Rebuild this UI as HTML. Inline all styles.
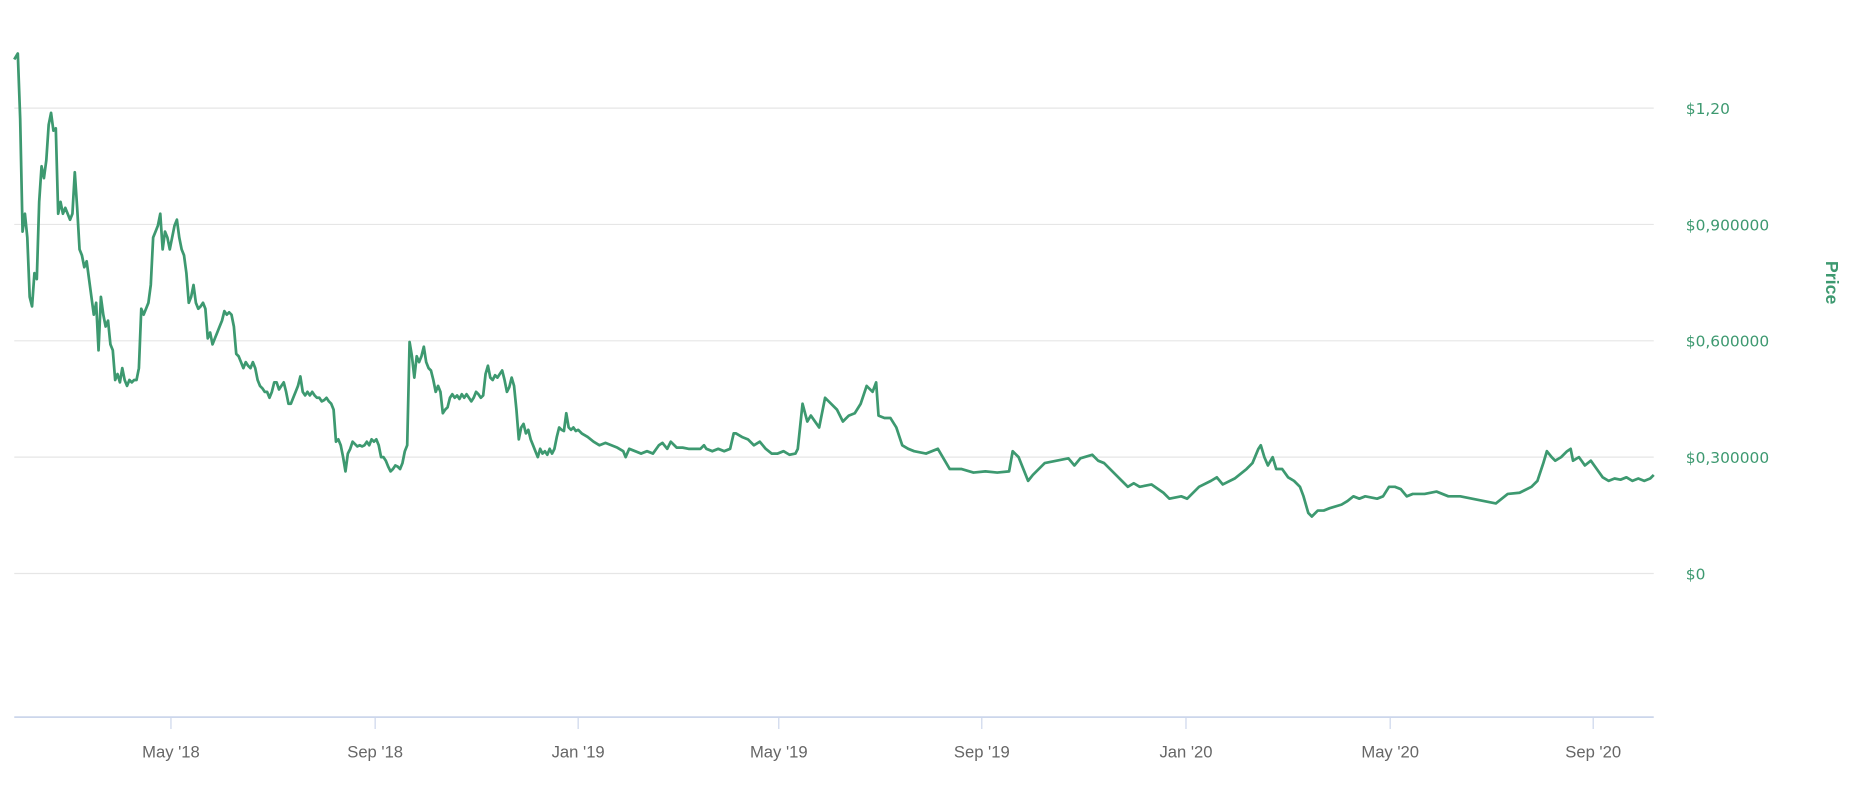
<!DOCTYPE html>
<html><head><meta charset="utf-8"><style>
html,body{margin:0;padding:0;background:#fff;}
svg{display:block;}
</style></head><body>
<svg width="1852" height="792" viewBox="0 0 1560 667" xmlns="http://www.w3.org/2000/svg" font-family="'Liberation Sans', 'DejaVu Sans', sans-serif">
<g stroke="#e6e6e6" stroke-width="1">
<line x1="12" y1="91" x2="1393" y2="91"/>
<line x1="12" y1="189" x2="1393" y2="189"/>
<line x1="12" y1="287" x2="1393" y2="287"/>
<line x1="12" y1="385" x2="1393" y2="385"/>
<line x1="12" y1="483" x2="1393" y2="483"/>
</g>
<line x1="12" y1="604" x2="1393" y2="604" stroke="#ccd6eb" stroke-width="1.5"/>
<g stroke="#ccd6eb" stroke-width="1">
<line x1="144" y1="604" x2="144" y2="614"/>
<line x1="316" y1="604" x2="316" y2="614"/>
<line x1="487" y1="604" x2="487" y2="614"/>
<line x1="656" y1="604" x2="656" y2="614"/>
<line x1="827" y1="604" x2="827" y2="614"/>
<line x1="999" y1="604" x2="999" y2="614"/>
<line x1="1171" y1="604" x2="1171" y2="614"/>
<line x1="1342" y1="604" x2="1342" y2="614"/>
</g>
<g fill="#666" font-size="14" text-anchor="middle">
<text x="144" y="638">May '18</text>
<text x="316" y="638">Sep '18</text>
<text x="487" y="638">Jan '19</text>
<text x="656" y="638">May '19</text>
<text x="827" y="638">Sep '19</text>
<text x="999" y="638">Jan '20</text>
<text x="1171" y="638">May '20</text>
<text x="1342" y="638">Sep '20</text>
</g>
<g fill="#3d9970" font-size="13" font-family="'DejaVu Sans', sans-serif">
<text x="1420" y="96">$1,20</text>
<text x="1420" y="194">$0,900000</text>
<text x="1420" y="292">$0,600000</text>
<text x="1420" y="390">$0,300000</text>
<text x="1420" y="488">$0</text>
</g>
<text x="1538" y="238" fill="#3d9970" font-size="15" font-weight="bold" text-anchor="middle" transform="rotate(90 1538 238)">Price</text>
<polyline fill="none" stroke="#3d9970" stroke-width="2.3" stroke-linejoin="round" points="12,50 15,45 17,100 19,195 21,180 23,200 25,250 27,258 29,230 31,235 33,170 35,140 37,150 39,135 41,105 43,95 45,110 47,108 49,180 51,170 53,180 55,175 57,180 59,185 61,180 63,145 65,175 67,210 69,215 71,225 73,220 75,235 77,250 79,265 81,255 83,295 85,250 87,265 89,275 91,270 93,290 95,295 97,320 99,315 101,322 103,310 105,320 107,325 109,320 111,322 113,320 115,320 117,310 119,260 121,265 123,260 125,255 127,240 129,200 131,195 133,190 135,180 137,210 139,195 141,200 143,210 145,200 147,190 149,185 151,200 153,210 155,215 157,230 159,255 161,250 163,240 165,255 167,260 169,258 171,255 173,260 175,285 177,280 179,290 181,285 183,280 185,275 187,270 189,262 191,265 193,263 195,265 197,275 199,298 201,300 203,305 205,310 207,305 209,308 211,310 213,305 215,310 217,320 219,325 221,327 223,330 225,330 227,335 229,330 231,322 233,322 235,328 237,325 239,322 241,330 243,340 245,340 247,335 249,330 251,325 253,317 255,330 257,333 259,330 261,333 263,330 265,333 267,335 269,335 271,338 273,337 275,335 277,338 279,340 281,345 283,372 285,370 287,375 289,385 291,397 293,382 295,378 297,372 299,374 301,376 303,375 305,376 307,375 309,372 311,375 313,370 315,372 317,370 319,375 321,385 323,385 325,388 327,393 329,397 331,395 333,392 335,393 337,395 339,390 341,380 343,375 345,288 347,300 349,318 351,300 353,305 355,300 357,292 359,305 361,310 363,312 365,320 367,330 369,325 371,330 373,348 375,345 377,343 379,335 381,332 383,335 385,333 387,336 389,332 391,335 393,332 395,335 397,338 399,335 401,330 403,332 405,335 407,333 409,315 411,308 413,318 415,320 417,316 419,318 421,315 423,312 425,320 427,330 429,326 431,318 433,325 435,345 437,370 439,360 441,357 443,365 445,362 447,370 449,375 451,380 453,385 455,378 457,382 459,380 461,383 463,378 465,382 467,378 469,368 471,360 473,362 475,363 477,348 479,360 481,362 483,360 485,363 487,362 490,365 495,368 500,372 505,375 510,373 515,375 520,377 525,380 527,385 530,378 535,380 540,382 545,380 550,382 555,375 558,373 562,378 565,372 570,377 575,377 580,378 585,378 590,378 593,375 595,378 600,380 605,378 610,380 615,378 618,365 620,365 625,368 630,370 635,375 640,372 645,378 650,382 655,382 660,380 665,383 670,382 672,378 676,340 680,355 683,350 690,360 695,335 700,340 705,345 710,355 715,350 720,348 725,340 730,325 735,330 738,322 740,350 745,352 750,352 755,360 760,375 765,378 770,380 780,382 790,378 800,395 810,395 820,398 830,397 840,398 850,397 853,380 858,385 862,395 866,405 870,400 880,390 890,388 900,386 905,392 910,386 920,383 925,388 930,390 940,400 945,405 950,410 955,407 960,410 970,408 980,415 985,420 995,418 1000,420 1010,410 1020,405 1025,402 1030,408 1040,403 1050,395 1055,390 1060,378 1062,375 1065,385 1068,392 1072,385 1075,395 1080,395 1085,402 1090,405 1095,410 1098,418 1102,432 1105,435 1110,430 1115,430 1120,428 1130,425 1135,422 1140,418 1145,420 1150,418 1160,420 1165,418 1170,410 1175,410 1180,412 1185,418 1190,416 1200,416 1210,414 1220,418 1230,418 1240,420 1250,422 1260,424 1265,420 1270,416 1280,415 1290,410 1295,405 1300,390 1303,380 1307,385 1310,388 1315,385 1320,380 1323,378 1325,388 1330,385 1335,392 1340,388 1345,395 1350,402 1355,405 1360,403 1365,404 1370,402 1375,405 1380,403 1385,405 1390,403 1393,400"/>
</svg>
</body></html>
